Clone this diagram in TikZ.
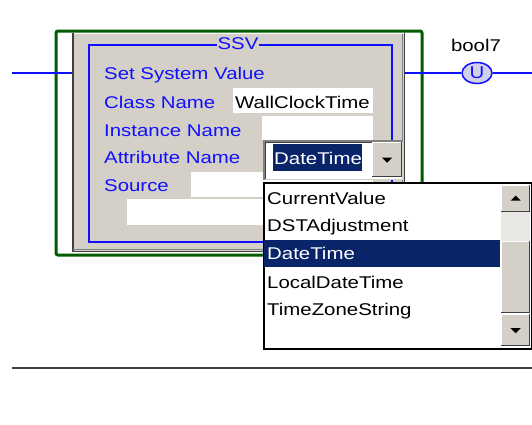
\documentclass[tikz,border=0pt]{standalone}
\usepackage{fontspec}
\setmainfont[FakeStretch=1.2]{Liberation Sans}
\usetikzlibrary{shapes.geometric}

\definecolor{winface}{HTML}{D4D0C8}
\definecolor{winshadow}{HTML}{808080}
\definecolor{windark}{HTML}{404040}
\definecolor{winsel}{HTML}{0A246A}
\definecolor{rungblue}{HTML}{1010FF}
\definecolor{frgreen}{HTML}{005C00}
\definecolor{coilfill}{HTML}{D0D0E8}
\definecolor{dither}{HTML}{E9E7E3}

\tikzset{
  uitext/.style={font=\fontsize{17}{20}\selectfont, inner sep=0pt, anchor=base west},
  bluetext/.style={uitext, text=rungblue},
  blacktext/.style={uitext, text=black},
  seltext/.style={uitext, text=white},
  rung/.style={draw=rungblue, line width=1.5pt},
  field/.style={fill=white, draw=none},
  facebox/.style={fill=winface, draw=none},
  raised/.style={fill=winface, draw=none},
  arrowglyph/.style={fill=black, draw=none},
}

\begin{document}
\begin{tikzpicture}[x=1pt, y=-1pt]
\useasboundingbox[fill=white] (0,0) rectangle (532,424);

% rung endpoints
\coordinate (railL) at (12,73);
\coordinate (railR) at (532,73);

% output coil and its tag
\node[ellipse, draw=rungblue, line width=1.5pt, fill=coilfill,
      minimum width=30pt, minimum height=21pt, inner sep=0pt] (coil) at (477,73) {};
\node[font=\fontsize{17}{18}\selectfont, text=rungblue, inner sep=0pt] (coilU) at (coil.center) {U};
\node[blacktext, anchor=base] (tag) at (476,51) {bool7};

% green enclosing frame
\draw[frgreen, line width=3pt, rounded corners=2pt] (56,31) rectangle (422,255);

% SSV instruction block (shift: +y is up on the canvas)
\node[facebox, minimum width=333pt, minimum height=219pt, anchor=north west, inner sep=0pt] (ssv) at (72,33) {};
\draw[white, line width=1pt] ([yshift=-0.5pt]ssv.north west) -- ([yshift=-0.5pt]ssv.north east);
\draw[windark, line width=1.5pt] ([xshift=0.75pt]ssv.north west) -- ([xshift=0.75pt]ssv.south west);
\draw[winshadow, line width=1pt] ([xshift=-2.5pt,yshift=-1pt]ssv.north east) -- ([xshift=-2.5pt,yshift=2.5pt]ssv.south east) -- ([xshift=1pt,yshift=2.5pt]ssv.south west);
\draw[windark, line width=1.5pt] ([xshift=-0.75pt]ssv.north east) -- ([xshift=-0.75pt,yshift=0.75pt]ssv.south east) -- ([yshift=0.75pt]ssv.south west);

% rung wiring
\draw[rung] (railL) -- (railL -| ssv.west);
\draw[rung] (railL -| ssv.east) -- (coil.west);
\draw[rung] (coil.east) -- (railR);

% inner blue outline with title
\draw[rungblue, line width=1.5pt] (89,45) rectangle (392,242);
\node[fill=winface, text=rungblue, font=\fontsize{17}{20}\selectfont, inner sep=1pt] (title) at (238,44) {SSV};

% operand labels
\node[bluetext] (lblSet)  at (104,79)  {Set System Value};
\node[bluetext] (lblCls)  at (104,108) {Class Name};
\node[bluetext] (lblInst) at (104,136) {Instance Name};
\node[bluetext] (lblAttr) at (104,163) {Attribute Name};
\node[bluetext] (lblSrc)  at (104,191) {Source};

% operand fields
\fill[white] (233,88) rectangle (373,113);
\node[blacktext] (valCls) at (235,108) {WallClockTime};
\fill[white] (262,116) rectangle (373,140);
\fill[white] (191,172) rectangle (373,197);
\fill[white] (127,199) rectangle (373,225);

% combo box for the attribute
\node[field, minimum width=140pt, minimum height=40pt, anchor=north west, inner sep=0pt] (combo) at (263,140) {};
\draw[winshadow, line width=2pt] ([xshift=1pt]combo.south west) -- ([xshift=1pt,yshift=-1pt]combo.north west) -- ([yshift=-1pt]combo.north east);
\draw[windark, line width=1pt] ([xshift=2.5pt,yshift=1pt]combo.south west) -- ([xshift=2.5pt,yshift=-2.5pt]combo.north west) -- ([xshift=-1pt,yshift=-2.5pt]combo.north east);
\draw[winface, line width=1.5pt] ([xshift=-0.75pt,yshift=-2pt]combo.north east) -- ([xshift=-0.75pt,yshift=0.75pt]combo.south east) -- ([xshift=2pt,yshift=0.75pt]combo.south west);
\fill[winsel] (273,144) rectangle (362,171);
\node[seltext] (selTxt) at (274,164) {DateTime};

% drop-down button
\node[raised, minimum width=30pt, minimum height=35pt, anchor=north west, inner sep=0pt] (dropbtn) at (372,142) {};
\draw[white, line width=1pt] ([yshift=0.5pt,xshift=0.5pt]dropbtn.south west) -- ([xshift=0.5pt,yshift=-0.5pt]dropbtn.north west) -- ([yshift=-0.5pt]dropbtn.north east);
\draw[windark, line width=1.5pt] ([xshift=-0.75pt]dropbtn.north east) -- ([xshift=-0.75pt,yshift=0.75pt]dropbtn.south east) -- ([yshift=0.75pt]dropbtn.south west);
\fill[arrowglyph] ([xshift=-5pt,yshift=2pt]dropbtn.center) -- ([xshift=5pt,yshift=2pt]dropbtn.center) -- ([yshift=-3pt]dropbtn.center) -- cycle;

% open list of attributes
\node[field, draw=black, line width=1.5pt, minimum width=268pt, minimum height=166pt, anchor=north west, inner sep=0pt] (list) at (263,182) {};
\fill[winsel] (264,240) rectangle (500,267);
\node[blacktext] (itCur)  at (267,204) {CurrentValue};
\node[blacktext] (itDst)  at (267,231) {DSTAdjustment};
\node[seltext]   (itDate) at (267,259) {DateTime};
\node[blacktext] (itLoc)  at (267,288) {LocalDateTime};
\node[blacktext] (itTz)   at (267,315) {TimeZoneString};

% scroll bar
\fill[dither] (501,212) rectangle (530,241);
\foreach \top/\bot/\nm in {185/212/sbUp, 241/313/sbThumb, 314/346/sbDown}{
  \node[raised, minimum width=29pt, minimum height=\bot-\top, anchor=north west, inner sep=0pt] (\nm) at (501,\top) {};
  \draw[white, line width=1pt] ([xshift=0.5pt,yshift=0.5pt]\nm.south west) -- ([xshift=0.5pt,yshift=-0.5pt]\nm.north west) -- ([yshift=-0.5pt]\nm.north east);
  \draw[windark, line width=1.5pt] ([xshift=-0.75pt]\nm.north east) -- ([xshift=-0.75pt,yshift=0.75pt]\nm.south east) -- ([yshift=0.75pt]\nm.south west);
}
\fill[arrowglyph] ([xshift=-5pt,yshift=-2pt]sbUp.center) -- ([xshift=5pt,yshift=-2pt]sbUp.center) -- ([yshift=3pt]sbUp.center) -- cycle;
\fill[arrowglyph] ([xshift=-5pt,yshift=2pt]sbDown.center) -- ([xshift=5pt,yshift=2pt]sbDown.center) -- ([yshift=-3pt]sbDown.center) -- cycle;

% lower rail
\coordinate (baseL) at (12,368);
\coordinate (baseR) at (532,368);
\draw[windark, line width=2pt] (baseL) -- (baseR);
\end{tikzpicture}
\end{document}
